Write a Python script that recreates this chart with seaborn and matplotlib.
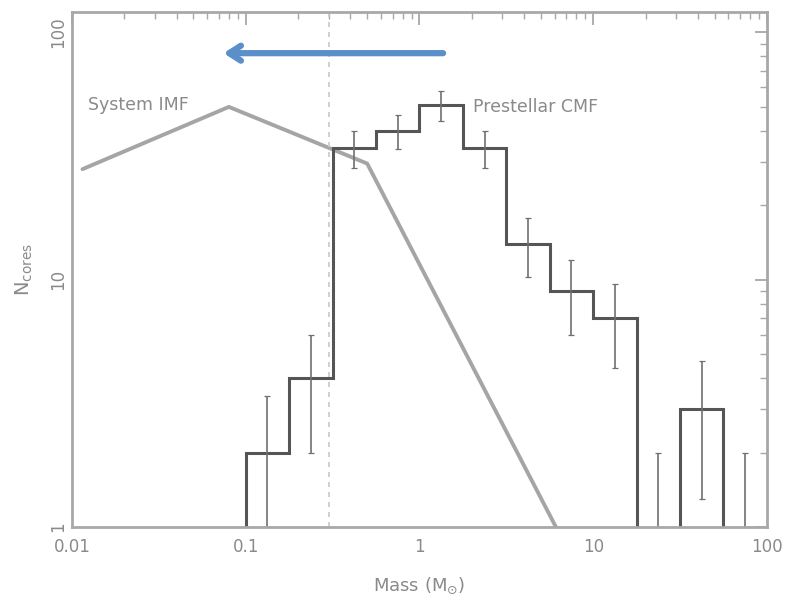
import numpy as np
import matplotlib
matplotlib.use("Agg")
import matplotlib.pyplot as plt
import seaborn as sns
import pandas as pd

# ---- data ----
bin_edges = [0.1, 0.178, 0.316, 0.562, 1.0, 1.78, 3.16, 5.62, 10.0, 17.8, 31.6, 56.2, 100.0]
core_counts = [2, 4, 34, 40, 51, 34, 14, 9, 7, 0, 3, 0]
err_low = [1.4, 2.0, 5.8, 6.3, 7.1, 5.8, 3.7, 3.0, 2.6, 0.0, 1.7, 0.0]
err_high = [1.4, 2.0, 5.8, 6.3, 7.1, 5.8, 3.7, 3.0, 2.6, 2.0, 1.7, 2.0]

imf_mass = [0.0115, 0.08, 0.5, 6.1]
imf_n = [28, 50, 29.5, 1.0]

completeness_mass = 0.3

x_ticks = [0.01, 0.1, 1, 10, 100]
x_ticklabels = ["0.01", "0.1", "1", "10", "100"]
y_ticks = [1, 10, 100]
y_ticklabels = ["1", "10", "100"]

# ---- styling ----
sns.set_theme(style="white")
plt.rcParams['font.family'] = ['DejaVu Sans']

txt_col = "#8a8a8a"
frame_col = "#a8a8a8"
hist_col = "#555555"
imf_col = "#a5a5a5"

fig = plt.figure(figsize=(7.85, 6.14), dpi=100)
ax = fig.add_axes([0.0917, 0.1417, 0.8853, 0.8388])
ax.set_xscale("log")
ax.set_yscale("log", nonpositive="clip")
ax.set_xlim(0.01, 100)
ax.set_ylim(1, 121)

# IMF line
imf_df = pd.DataFrame({"mass": imf_mass, "n": imf_n})
sns.lineplot(data=imf_df, x="mass", y="n", ax=ax, color=imf_col, lw=2.8,
             estimator=None, sort=False)

# completeness line
ax.axvline(completeness_mass, color="#c8c8c8", lw=1.2, ls=(0, (3, 3)))

# histogram step outline
edges = np.array(bin_edges)
counts = np.array(core_counts, dtype=float)
xs = np.repeat(edges, 2)
ys = np.concatenate([[0.0], np.repeat(counts, 2), [0.0]])
ax.plot(xs, ys, color=hist_col, lw=2.2, solid_joinstyle="miter")

# error bars
centers = np.sqrt(edges[:-1] * edges[1:])
ax.errorbar(centers, counts, yerr=[err_low, err_high], fmt="none",
            ecolor="#707070", elinewidth=1.2, capsize=2.5, capthick=0.9)

# labels inside
ax.text(0.023, 0.819, "System IMF", transform=ax.transAxes, color=txt_col,
        fontsize=12.5, va="center", ha="left")
ax.text(0.577, 0.816, "Prestellar CMF", transform=ax.transAxes, color=txt_col,
        fontsize=12.5, va="center", ha="left")

# blue arrow annotation
ax.annotate("", xy=(0.218, 0.920), xytext=(0.534, 0.920), xycoords="axes fraction",
            textcoords="axes fraction",
            arrowprops=dict(arrowstyle="->,head_length=0.7,head_width=0.45",
                            color="#5b8fc9", lw=4.5, shrinkA=0, shrinkB=0))

# axes styling
ax.set_xticks(x_ticks)
ax.set_xticklabels(x_ticklabels)
ax.set_yticks(y_ticks)
ax.set_yticklabels(y_ticklabels, rotation=90, va="center")
ax.tick_params(which="both", direction="in", top=True, right=True,
               colors=frame_col, labelcolor=txt_col, labelsize=12)
ax.tick_params(which="major", length=9, width=1.3)
ax.tick_params(which="minor", length=5, width=1.0)
ax.tick_params(axis="x", pad=8)
for s in ax.spines.values():
    s.set_color(frame_col)
    s.set_linewidth(2.0)

ax.set_xlabel(r"Mass (M$_{\odot}$)", color=txt_col, fontsize=13, labelpad=14)
ax.set_ylabel(r"N$_{\rm cores}$", color=txt_col, fontsize=14, labelpad=10)

fig.savefig("out.png", dpi=100, facecolor="white")
